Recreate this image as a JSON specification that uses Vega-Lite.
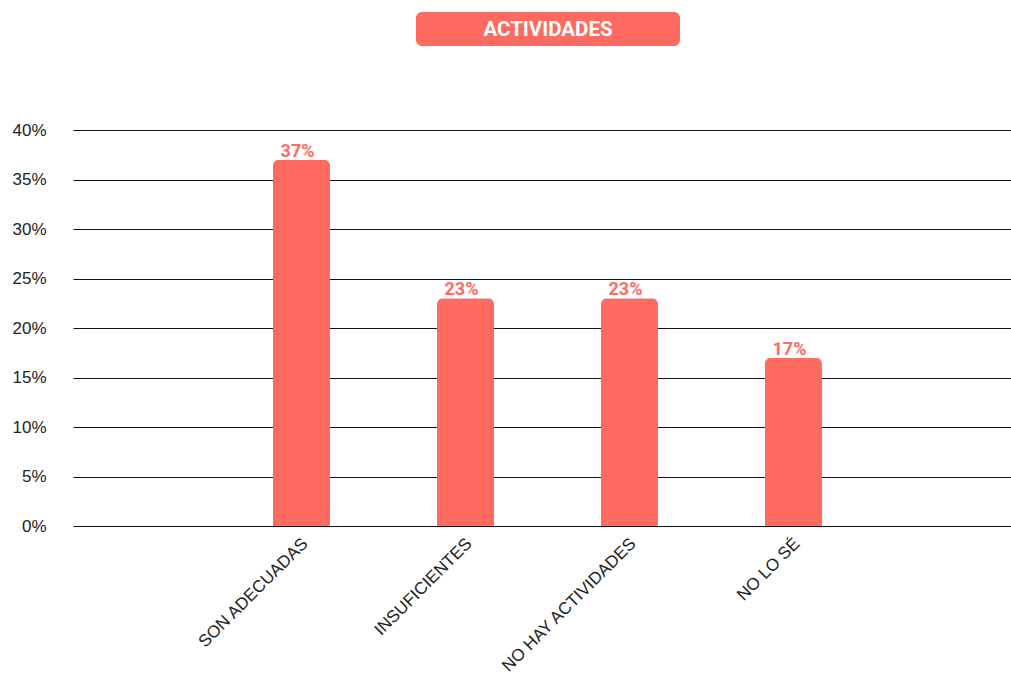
{
  "$schema": "https://vega.github.io/schema/vega-lite/v6.json",
  "padding": {"left": 11, "top": 12, "right": 0, "bottom": 0},
  "background": "white",
  "spacing": 75,
  "config": {"view": {"stroke": null}},
  "vconcat": [
    {
      "spacing": 0,
      "hconcat": [
        {"width": 343, "height": 34, "data": {"values": []}, "mark": "point"},
        {
          "width": 264,
          "height": 34,
          "view": {"fill": "#ff6b60", "cornerRadius": 6, "stroke": null},
          "data": {"values": [{"t": "ACTIVIDADES"}]},
          "mark": {"type": "text", "font": "Roboto", "fontWeight": "bold", "fontSize": 20.5, "color": "white", "baseline": "middle", "align": "center", "dy": 1},
          "encoding": {"text": {"field": "t"}}
        }
      ]
    },
    {
      "width": 939,
      "height": 396,
      "data": {"values": [
        {"cat": "SON ADECUADAS", "v": 0.37},
        {"cat": "INSUFICIENTES", "v": 0.23},
        {"cat": "NO HAY ACTIVIDADES", "v": 0.23},
        {"cat": "NO LO SÉ", "v": 0.17}
      ]},
      "encoding": {
        "x": {
          "field": "cat", "type": "nominal", "sort": null,
          "scale": {"paddingInner": 0.652, "paddingOuter": 0, "range": [200, 749]},
          "axis": {"title": null, "labelAngle": -45, "labelFont": "Liberation Sans", "labelFontSize": 17, "labelColor": "#222", "ticks": false, "domain": false, "labelPadding": 9, "labelLimit": 400, "labelOffset": -2}
        },
        "y": {
          "field": "v", "type": "quantitative",
          "scale": {"domain": [0, 0.4]},
          "axis": {"title": null, "values": [0, 0.05, 0.1, 0.15, 0.2, 0.25, 0.3, 0.35, 0.4], "format": ".0%", "labelFont": "Liberation Sans", "labelFontSize": 17, "labelColor": "#222", "ticks": true, "tickSize": -939, "tickColor": "#111", "tickWidth": 1, "domain": false, "grid": false, "labelPadding": 966}
        }
      },
      "layer": [
        {"mark": {"type": "bar", "color": "#ff6b60", "cornerRadiusTopLeft": 6, "cornerRadiusTopRight": 6}},
        {
          "mark": {"type": "text", "font": "Roboto", "fontWeight": "bold", "fontSize": 18, "color": "#ff6b60", "baseline": "alphabetic", "dy": -3, "dx": -4},
          "encoding": {"text": {"field": "v", "type": "quantitative", "format": ".0%"}}
        }
      ]
    }
  ]
}
